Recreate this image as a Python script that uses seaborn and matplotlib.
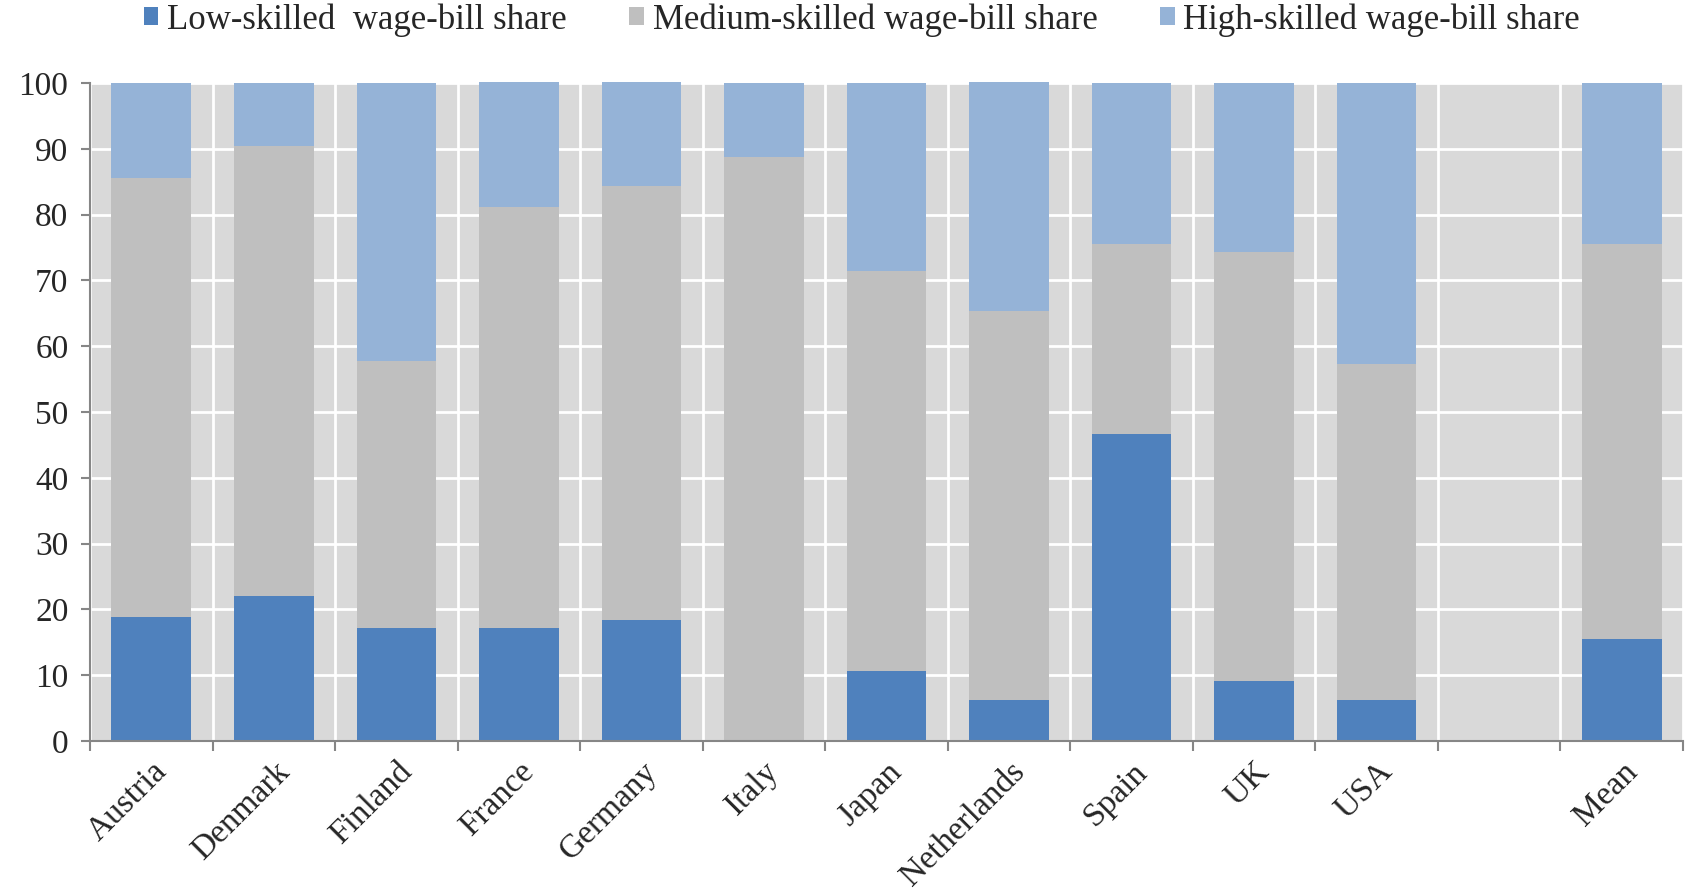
import numpy as np
import pandas as pd
import matplotlib
matplotlib.use("Agg")
import matplotlib.pyplot as plt
from matplotlib.patches import Patch
import seaborn as sns

# Wage-bill shares by skill level (percent)
countries = ["Austria", "Denmark", "Finland", "France", "Germany", "Italy",
             "Japan", "Netherlands", "Spain", "UK", "USA", "Mean"]
low_share = [18.8, 22.0, 17.1, 17.1, 18.4, 0.0, 10.7, 6.2, 46.7, 9.1, 6.3, 15.5]
medium_share = [66.8, 68.4, 40.6, 64.1, 66.0, 88.8, 60.8, 59.2, 28.9, 65.2, 51.0, 60.1]
high_share = [14.4, 9.6, 42.3, 19.0, 15.8, 11.2, 28.5, 34.8, 24.4, 25.7, 42.7, 24.4]

series_names = ["Low-skilled  wage-bill share",
                "Medium-skilled wage-bill share",
                "High-skilled wage-bill share"]
colors = ["#4f81bd", "#bfbfbf", "#95b3d7"]

# blank slot separates the countries from the mean
order = countries[:-1] + [""] + ["Mean"]

df = pd.DataFrame({"country": countries, "low": low_share,
                   "medium": medium_share, "high": high_share})
df["cum_low"] = df["low"]
df["cum_medium"] = df["low"] + df["medium"]
df["cum_high"] = df["cum_medium"] + df["high"]

sns.set_theme(style="white")
plt.rcParams["font.family"] = ["Liberation Serif", "DejaVu Serif"]

fig = plt.figure(figsize=(16.9, 8.96), dpi=100)
ax = fig.add_axes([90 / 1690, 155 / 896, 1593 / 1690, 658 / 896])
ax.set_facecolor("#d9d9d9")

for col, c in zip(["cum_high", "cum_medium", "cum_low"], colors[::-1]):
    sns.barplot(data=df, x="country", y=col, order=order, color=c,
                saturation=1, width=0.65, errorbar=None, linewidth=0,
                ax=ax, zorder=3)

for p in ax.patches:
    p.set_clip_on(False)

ax.set_xlim(-0.5, len(order) - 0.5)
ax.set_ylim(0, 100)
ax.set_yticks(np.arange(0, 101, 10))
ax.set_xticks(np.arange(-0.5, len(order), 1), minor=True)
ax.set_xlabel("")
ax.set_ylabel("")

ax.set_axisbelow(True)
ax.grid(False)
ax.yaxis.grid(True, color="white", linewidth=2)
ax.xaxis.grid(True, which="minor", color="white", linewidth=2)

for s in ["top", "right"]:
    ax.spines[s].set_visible(False)
for s in ["left", "bottom"]:
    ax.spines[s].set_color("#868686")
    ax.spines[s].set_linewidth(1.5)
    ax.spines[s].set_zorder(4)

ax.tick_params(axis="y", which="major", direction="out", length=6.5, width=1.5,
               color="#868686", labelsize=24, pad=9, left=True)
ax.tick_params(axis="x", which="major", length=0, labelsize=24, pad=11)
ax.tick_params(axis="x", which="minor", direction="out", length=7, width=1.5,
               color="#868686", bottom=True)

ax.set_xticks(range(len(order)))
ax.set_xticklabels(order, rotation=45, ha="right", rotation_mode="anchor")

handles = [Patch(facecolor=c, edgecolor="none") for c in colors]
fig.legend(handles, series_names, loc="center", ncol=3,
           bbox_to_anchor=(0.51, 1 - 20 / 896), frameon=False,
           fontsize=25, handlelength=0.42, handleheight=0.42,
           handletextpad=0.25, columnspacing=1.8)

fig.savefig("out.png", dpi=100)
